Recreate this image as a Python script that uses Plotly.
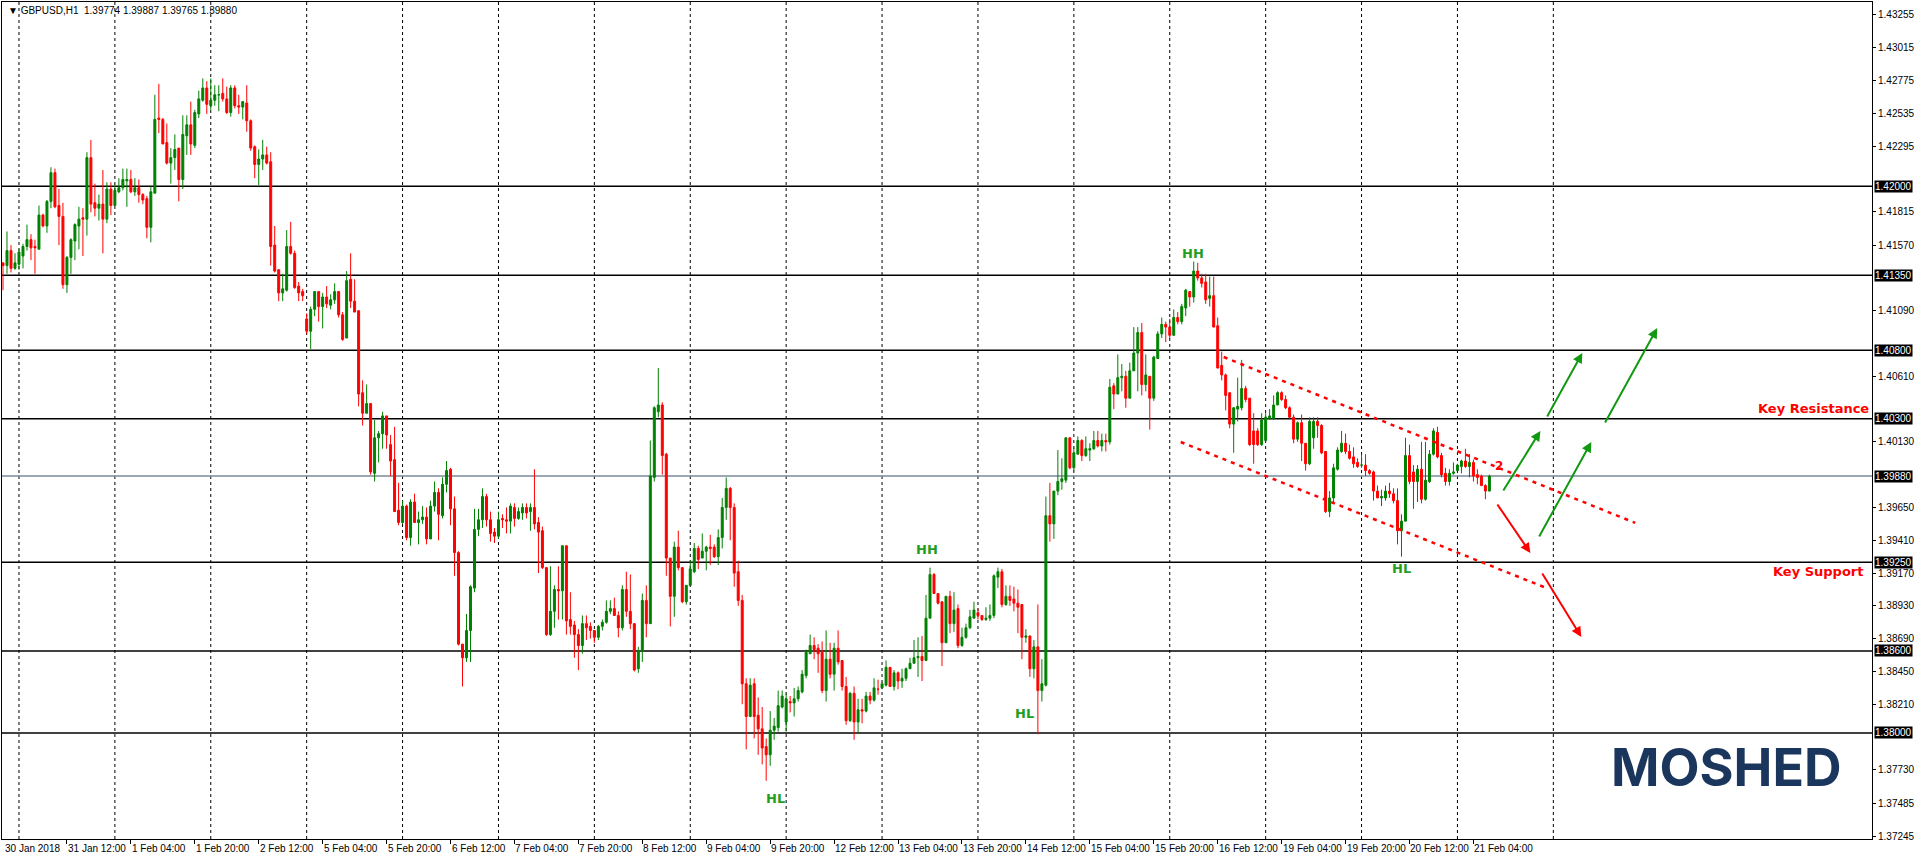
import plotly.graph_objects as go

opens = [1.4144,1.4142,1.4153,1.4140,1.4143,1.4149,1.4156,1.4161,1.4156,1.4154,
1.4179,1.4171,1.4189,1.4210,1.4186,1.4178,1.4128,1.4148,1.4160,1.4171,
1.4177,1.4176,1.4221,1.4188,1.4184,1.4187,1.4176,1.4198,1.4186,1.4196,
1.4199,1.4204,1.4205,1.4196,1.4199,1.4194,1.4191,1.4170,1.4195,1.4250,
1.4249,1.4232,1.4217,1.4221,1.4228,1.4205,1.4237,1.4245,1.4230,1.4253,
1.4263,1.4272,1.4259,1.4263,1.4267,1.4268,1.4264,1.4254,1.4272,1.4259,
1.4258,1.4261,1.4248,1.4229,1.4216,1.4220,1.4223,1.4218,1.4157,1.4139,
1.4122,1.4124,1.4156,1.4151,1.4127,1.4123,
1.4103,1.4094,1.4110,1.4123,1.4112,1.4119,1.4113,1.4117,1.4123,1.4106,
1.4089,1.4132,1.4116,1.4109,1.4049,1.4034,1.4041,1.3990,1.4016,1.4019,
1.4032,1.4011,1.4000,1.3963,1.3954,1.3966,1.3943,1.3969,1.3954,1.3956,
1.3958,1.3942,1.3966,1.3976,1.3959,1.3982,1.3993,1.3964,1.3932,1.3865,
1.3855,1.3875,1.3906,1.3949,1.3956,1.3973,1.3956,1.3947,1.3944,1.3957,
1.3956,1.3955,1.3965,1.3957,1.3961,1.3965,1.3962,1.3965,1.3954,1.3948,
1.3921,1.3872,1.3889,1.3905,1.3904,1.3937,1.3883,1.3879,1.3872,1.3864,
1.3880,1.3878,1.3875,1.3870,1.3878,1.3881,1.3889,1.3891,1.3886,1.3877,
1.3905,1.3889,1.3880,1.3847,1.3860,1.3897,1.3880,1.3987,1.4035,1.4040,
1.4004,1.3928,1.3900,1.3936,1.3921,1.3896,1.3908,1.3918,1.3935,1.3928,
1.3933,1.3936,1.3936,1.3929,1.3943,1.3965,1.3979,1.3965,1.3918,1.3897,
1.3836,1.3812,1.3836,1.3813,1.3803,1.3790,1.3784,1.3802,1.3804,1.3819,
1.3808,1.3823,1.3822,1.3825,
1.3830,1.3842,1.3858,1.3864,1.3862,1.3859,1.3831,1.3854,1.3843,1.3862,
1.3853,1.3834,1.3809,1.3829,1.3808,1.3817,1.3816,1.3827,1.3824,1.3832,
1.3833,1.3835,1.3848,1.3834,1.3844,1.3838,1.3840,1.3847,1.3851,1.3855,
1.3856,1.3853,1.3884,1.3916,1.3902,1.3896,1.3866,1.3900,1.3880,1.3891,
1.3864,1.3870,1.3877,1.3884,1.3888,1.3886,1.3883,1.3884,1.3886,1.3914,
1.3918,1.3894,1.3900,1.3898,1.3895,1.3894,1.3870,1.3871,1.3847,1.3863,
1.3831,1.3835,1.3959,1.3953,1.3977,1.3984,1.3985,1.4016,1.3994,1.4004,
1.4014,1.4003,1.4007,1.4008,1.4014,1.4010,1.4014,1.4013,1.4054,1.4048,
1.4060,1.4061,1.4045,1.4065,1.4078,1.4093,1.4055,1.4061,1.4045,1.4074,
1.4092,1.4099,1.4097,1.4091,1.4104,1.4101,1.4111,1.4123,1.4119,1.4138,
1.4133,1.4130,1.4118,1.4120,1.4098,1.4069,1.4062,1.4049,1.4026,1.4037,
1.4038,1.4052,1.4045,1.4021,1.4021,1.4011,1.4014,1.4030,1.4030,1.4040,
1.4049,1.4044,1.4038,1.4031,1.4015,1.4027,1.4012,1.3997,1.4016,1.4028,
1.4025,1.4006,1.3962,1.3972,1.3993,1.4006,1.4012,1.4006,1.4002,1.3998,
1.3996,1.3996,1.3992,1.3991,1.3977,1.3972,1.3972,1.3977,1.3975,1.3970,
1.3948,1.3955,1.4003,1.3991,1.3984,1.3993,1.3971,1.3984,1.4004,1.4020,
1.4003,1.3990,1.3984,1.3990,1.3992,1.3995,1.3999,1.3995,1.3998,1.3989,
1.3988,1.3981,1.3977]

highs = [1.4144,1.4167,1.4157,1.4151,1.4154,1.4158,1.4172,1.4165,1.4161,1.4186,
1.4180,1.4190,1.4214,1.4213,1.4198,1.4188,1.4149,1.4162,1.4173,1.4185,
1.4184,1.4225,1.4234,1.4202,1.4194,1.4212,1.4203,1.4203,1.4201,1.4206,
1.4213,1.4213,1.4212,1.4206,1.4205,1.4195,1.4193,1.4200,1.4267,1.4275,
1.4250,1.4246,1.4228,1.4238,1.4228,1.4252,1.4252,1.4262,1.4256,1.4270,
1.4279,1.4277,1.4279,1.4274,1.4274,1.4279,1.4273,1.4274,1.4274,1.4267,
1.4262,1.4274,1.4249,1.4230,1.4227,1.4234,1.4229,1.4225,1.4171,1.4139,
1.4136,1.4168,1.4174,1.4153,1.4130,1.4125,
1.4107,1.4112,1.4123,1.4123,1.4122,1.4127,1.4121,1.4129,1.4123,1.4108,
1.4138,1.4151,1.4132,1.4109,1.4058,1.4055,1.4041,1.4029,1.4021,1.4035,
1.4032,1.4018,1.4024,1.3983,1.3970,1.3967,1.3971,1.3975,1.3962,1.3966,
1.3965,1.3970,1.3984,1.3979,1.3987,1.3999,1.3994,1.3973,1.3933,1.3865,
1.3887,1.3908,1.3964,1.3964,1.3979,1.3975,1.3962,1.3950,1.3962,1.3960,
1.3965,1.3968,1.3968,1.3965,1.3968,1.3968,1.3968,1.3993,1.3958,1.3951,
1.3921,1.3922,1.3908,1.3922,1.3937,1.3937,1.3903,1.3882,1.3876,1.3886,
1.3886,1.3881,1.3875,1.3879,1.3883,1.3897,1.3897,1.3899,1.3889,1.3908,
1.3918,1.3916,1.3880,1.3863,1.3902,1.3908,1.4014,1.4039,1.4067,1.4042,
1.4005,1.3928,1.3940,1.3948,1.3921,1.3908,1.3926,1.3939,1.3937,1.3946,
1.3937,1.3945,1.3938,1.3949,1.3972,1.3987,1.3980,1.3968,1.3926,1.3901,
1.3840,1.3840,1.3840,1.3826,1.3819,1.3796,1.3816,1.3811,1.3831,1.3831,
1.3829,1.3827,1.3833,1.3834,
1.3846,1.3861,1.3872,1.3870,1.3865,1.3867,1.3875,1.3866,1.3866,1.3875,
1.3853,1.3841,1.3830,1.3834,1.3825,1.3825,1.3830,1.3830,1.3840,1.3839,
1.3837,1.3853,1.3848,1.3846,1.3845,1.3847,1.3848,1.3855,1.3868,1.3870,
1.3871,1.3901,1.3921,1.3917,1.3902,1.3896,1.3900,1.3904,1.3903,1.3894,
1.3877,1.3880,1.3890,1.3896,1.3891,1.3886,1.3892,1.3894,1.3916,1.3921,
1.3920,1.3908,1.3908,1.3907,1.3905,1.3894,1.3876,1.3871,1.3868,1.3894,
1.3854,1.3973,1.3983,1.3977,1.4007,1.4001,1.4016,1.4016,1.4009,1.4017,
1.4015,1.4017,1.4012,1.4021,1.4021,1.4019,1.4019,1.4059,1.4056,1.4077,
1.4070,1.4065,1.4071,1.4097,1.4097,1.4100,1.4077,1.4061,1.4076,1.4094,
1.4104,1.4101,1.4103,1.4110,1.4108,1.4114,1.4125,1.4123,1.4145,1.4144,
1.4136,1.4136,1.4134,1.4134,1.4104,1.4079,1.4063,1.4049,1.4038,1.4060,
1.4073,1.4054,1.4045,1.4034,1.4023,1.4034,1.4034,1.4037,1.4047,1.4050,
1.4050,1.4047,1.4039,1.4033,1.4028,1.4033,1.4012,1.4031,1.4031,1.4031,
1.4026,1.4006,1.3977,1.3997,1.4009,1.4021,1.4019,1.4011,1.4009,1.4001,
1.4004,1.4004,1.3993,1.3992,1.3981,1.3978,1.3981,1.3983,1.3979,1.3979,
1.3960,1.4016,1.4011,1.3996,1.3996,1.4013,1.4013,1.4007,1.4023,1.4024,
1.4005,1.3994,1.3993,1.3998,1.3997,1.4000,1.4008,1.4004,1.4000,1.3993,
1.3989,1.3982,1.3989]

lows = [1.4124,1.4136,1.4137,1.4139,1.4139,1.4140,1.4153,1.4146,1.4136,1.4154,
1.4170,1.4166,1.4184,1.4184,1.4157,1.4125,1.4122,1.4136,1.4146,1.4154,
1.4149,1.4164,1.4181,1.4178,1.4175,1.4151,1.4173,1.4179,1.4186,1.4195,
1.4197,1.4185,1.4195,1.4193,1.4188,1.4187,1.4162,1.4159,1.4195,1.4239,
1.4231,1.4216,1.4202,1.4212,1.4189,1.4198,1.4223,1.4223,1.4228,1.4250,
1.4262,1.4253,1.4256,1.4259,1.4255,1.4262,1.4253,1.4251,1.4257,1.4253,
1.4249,1.4240,1.4226,1.4206,1.4201,1.4212,1.4216,1.4142,1.4137,1.4116,
1.4116,1.4123,1.4150,1.4125,1.4116,1.4116,
1.4092,1.4081,1.4105,1.4101,1.4096,1.4111,1.4110,1.4114,1.4104,1.4087,
1.4089,1.4111,1.4108,1.4039,1.4025,1.4034,1.3989,1.3984,1.3998,1.4008,
1.4008,1.3988,1.3962,1.3952,1.3953,1.3941,1.3937,1.3954,1.3938,1.3953,
1.3938,1.3942,1.3962,1.3941,1.3957,1.3976,1.3952,1.3915,1.3864,1.3834,
1.3852,1.3852,1.3903,1.3944,1.3950,1.3951,1.3940,1.3939,1.3942,1.3950,
1.3946,1.3946,1.3951,1.3956,1.3956,1.3957,1.3948,1.3949,1.3917,1.3920,
1.3871,1.3871,1.3877,1.3883,1.3883,1.3872,1.3872,1.3855,1.3846,1.3858,
1.3868,1.3869,1.3866,1.3868,1.3875,1.3880,1.3887,1.3886,1.3870,1.3875,
1.3885,1.3876,1.3845,1.3844,1.3852,1.3870,1.3880,1.3984,1.4031,1.3989,
1.3915,1.3878,1.3885,1.3919,1.3895,1.3894,1.3908,1.3917,1.3920,1.3928,
1.3919,1.3923,1.3928,1.3923,1.3935,1.3956,1.3941,1.3907,1.3893,1.3821,
1.3788,1.3812,1.3796,1.3784,1.3777,1.3765,1.3776,1.3795,1.3801,1.3818,
1.3801,1.3815,1.3812,1.3823,
1.3829,1.3840,1.3858,1.3854,1.3844,1.3829,1.3823,1.3840,1.3831,1.3850,
1.3831,1.3806,1.3808,1.3795,1.3800,1.3807,1.3815,1.3821,1.3823,1.3828,
1.3832,1.3834,1.3834,1.3831,1.3832,1.3833,1.3838,1.3847,1.3851,1.3841,
1.3838,1.3853,1.3884,1.3902,1.3894,1.3849,1.3866,1.3873,1.3874,1.3862,
1.3863,1.3869,1.3876,1.3884,1.3883,1.3882,1.3882,1.3882,1.3884,1.3906,
1.3892,1.3893,1.3893,1.3889,1.3873,1.3854,1.3866,1.3841,1.3840,1.3799,
1.3823,1.3834,1.3940,1.3942,1.3974,1.3978,1.3983,1.3993,1.3992,1.4004,
1.3999,1.4002,1.3999,1.4007,1.4009,1.4006,1.4006,1.4011,1.4037,1.4048,
1.4050,1.4038,1.4045,1.4065,1.4050,1.4047,1.4050,1.4022,1.4043,1.4074,
1.4089,1.4086,1.4089,1.4091,1.4099,1.4099,1.4105,1.4112,1.4115,1.4131,
1.4126,1.4114,1.4112,1.4097,1.4067,1.4058,1.4036,1.4023,1.4005,1.4028,
1.4036,1.4042,1.4010,1.3997,1.4010,1.4010,1.4014,1.4029,1.4029,1.4040,
1.4043,1.4037,1.4030,1.4012,1.4013,1.3999,1.3992,1.3996,1.4008,1.4016,
1.4004,1.3961,1.3958,1.3968,1.3992,1.4005,1.4004,1.4000,1.3994,1.3994,
1.3994,1.3988,1.3989,1.3970,1.3972,1.3966,1.3970,1.3972,1.3968,1.3938,
1.3929,1.3955,1.3982,1.3964,1.3969,1.3968,1.3970,1.3983,1.4003,1.4001,
1.3987,1.3981,1.3981,1.3989,1.3992,1.3990,1.3994,1.3987,1.3984,1.3982,
1.3981,1.3971,1.3977]

closes = [1.4142,1.4153,1.4140,1.4144,1.4152,1.4156,1.4161,1.4155,1.4155,1.4179,
1.4171,1.4189,1.4210,1.4185,1.4178,1.4128,1.4148,1.4161,1.4172,1.4176,
1.4176,1.4221,1.4187,1.4184,1.4187,1.4176,1.4198,1.4186,1.4197,1.4199,
1.4205,1.4205,1.4196,1.4199,1.4194,1.4190,1.4170,1.4196,1.4249,1.4249,
1.4231,1.4217,1.4221,1.4227,1.4205,1.4238,1.4245,1.4231,1.4254,1.4264,
1.4272,1.4260,1.4263,1.4267,1.4267,1.4264,1.4254,1.4272,1.4259,1.4258,
1.4262,1.4248,1.4228,1.4216,1.4220,1.4223,1.4217,1.4156,1.4138,1.4122,
1.4125,1.4156,1.4151,1.4126,1.4122,1.4120,
1.4094,1.4110,1.4123,1.4112,1.4119,1.4114,1.4117,1.4123,1.4106,1.4088,
1.4131,1.4116,1.4108,1.4048,1.4034,1.4041,1.3991,1.4016,1.4019,1.4032,
1.4018,1.3999,1.3962,1.3954,1.3966,1.3943,1.3969,1.3954,1.3956,1.3958,
1.3942,1.3966,1.3976,1.3960,1.3982,1.3992,1.3964,1.3932,1.3865,1.3855,
1.3875,1.3907,1.3949,1.3956,1.3973,1.3956,1.3946,1.3944,1.3956,1.3956,
1.3955,1.3966,1.3957,1.3962,1.3965,1.3961,1.3965,1.3953,1.3947,1.3921,
1.3872,1.3889,1.3905,1.3904,1.3937,1.3882,1.3878,1.3872,1.3864,1.3880,
1.3877,1.3875,1.3870,1.3878,1.3881,1.3889,1.3891,1.3886,1.3877,1.3905,
1.3889,1.3880,1.3846,1.3860,1.3897,1.3880,1.3988,1.4038,1.4040,1.4003,
1.3928,1.3900,1.3936,1.3921,1.3896,1.3908,1.3920,1.3935,1.3927,1.3933,
1.3936,1.3935,1.3929,1.3943,1.3965,1.3979,1.3965,1.3917,1.3897,1.3836,
1.3812,1.3835,1.3812,1.3803,1.3789,1.3784,1.3802,1.3805,1.3820,1.3827,
1.3825,1.3822,1.3825,1.3831,
1.3843,1.3859,1.3864,1.3861,1.3858,1.3831,1.3854,1.3843,1.3862,1.3852,
1.3834,1.3809,1.3829,1.3808,1.3817,1.3816,1.3827,1.3824,1.3833,1.3832,
1.3836,1.3848,1.3834,1.3844,1.3838,1.3840,1.3847,1.3851,1.3855,1.3856,
1.3853,1.3884,1.3916,1.3902,1.3895,1.3866,1.3900,1.3880,1.3890,1.3864,
1.3870,1.3877,1.3885,1.3890,1.3886,1.3883,1.3884,1.3886,1.3915,1.3918,
1.3894,1.3900,1.3897,1.3895,1.3892,1.3870,1.3871,1.3847,1.3863,1.3831,
1.3836,1.3959,1.3953,1.3977,1.3984,1.3986,1.4016,1.3994,1.4005,1.4014,
1.4003,1.4008,1.4008,1.4014,1.4010,1.4014,1.4013,1.4053,1.4048,1.4060,
1.4061,1.4045,1.4065,1.4078,1.4093,1.4055,1.4062,1.4045,1.4075,1.4092,
1.4099,1.4097,1.4091,1.4104,1.4101,1.4112,1.4124,1.4119,1.4138,1.4133,
1.4129,1.4117,1.4120,1.4097,1.4067,1.4062,1.4047,1.4026,1.4038,1.4039,
1.4052,1.4044,1.4011,1.4011,1.4011,1.4029,1.4031,1.4032,1.4040,1.4049,
1.4044,1.4038,1.4031,1.4015,1.4027,1.4012,1.3997,1.4028,1.4028,1.4025,
1.4005,1.3962,1.3972,1.3994,1.4007,1.4012,1.4006,1.4001,1.3997,1.3995,
1.3996,1.3992,1.3990,1.3977,1.3972,1.3973,1.3977,1.3975,1.3970,1.3948,
1.3955,1.4003,1.3984,1.3984,1.3993,1.3971,1.3985,1.4004,1.4021,1.4002,
1.3989,1.3984,1.3990,1.3991,1.3996,1.3999,1.3995,1.3998,1.3988,1.3987,
1.3981,1.3977,1.3988]

time_labels = ["30 Jan 2018", "31 Jan 12:00", "1 Feb 04:00", "1 Feb 20:00", "2 Feb 12:00",
               "5 Feb 04:00", "5 Feb 20:00", "6 Feb 12:00", "7 Feb 04:00", "7 Feb 20:00",
               "8 Feb 12:00", "9 Feb 04:00", "9 Feb 20:00", "12 Feb 12:00", "13 Feb 04:00",
               "13 Feb 20:00", "14 Feb 12:00", "15 Feb 04:00", "15 Feb 20:00", "16 Feb 12:00",
               "19 Feb 04:00", "19 Feb 20:00", "20 Feb 12:00", "21 Feb 04:00"]
price_ticks = [1.43255, 1.43015, 1.42775, 1.42535, 1.42295, 1.41815, 1.41570, 1.41090,
               1.40610, 1.40130, 1.39650, 1.39410, 1.39170, 1.38930, 1.38690, 1.38450,
               1.38210, 1.37730, 1.37485, 1.37245]
levels = [1.42000, 1.41350, 1.40800, 1.40300, 1.39250, 1.38600, 1.38000]
current_price = 1.39880

n = len(closes)
xs = list(range(n))
highs = [max(h, o, c) for h, o, c in zip(highs, opens, closes)]
lows = [min(l, o, c) for l, o, c in zip(lows, opens, closes)]

GREEN = "#008000"
RED = "#ff0000"
LBL = "#1f9e1f"
AXFONT = dict(family="Liberation Sans", size=10, color="black")

fig = go.Figure()
fig.add_trace(go.Candlestick(
    x=xs, open=opens, high=highs, low=lows, close=closes,
    increasing=dict(line=dict(color=GREEN, width=1), fillcolor=GREEN),
    decreasing=dict(line=dict(color=RED, width=1), fillcolor=RED),
    whiskerwidth=0, hoverinfo="skip", showlegend=False))

X0, X1 = -0.25, 467.75
Y0, Y1 = 1.37224, 1.43349

for k in range(17):
    xv = 4 + 24 * k
    fig.add_shape(type="line", x0=xv, x1=xv, y0=0, y1=1, xref="x", yref="paper",
                  line=dict(color="black", width=1, dash="3px,3px"), layer="below")
for lv in levels:
    fig.add_shape(type="line", x0=0, x1=1, xref="paper", y0=lv, y1=lv, yref="y",
                  line=dict(color="black", width=1.5), layer="below")
fig.add_shape(type="line", x0=0, x1=1, xref="paper", y0=current_price, y1=current_price, yref="y",
              line=dict(color="#7a8a99", width=1.5), layer="below")

fig.add_shape(type="line", x0=305.5, y0=1.40751, x1=408.5, y1=1.39537,
              line=dict(color=RED, width=2.5, dash="4px,5px"))
fig.add_shape(type="line", x0=294.75, y0=1.40129, x1=386.25, y1=1.39061,
              line=dict(color=RED, width=2.5, dash="4px,5px"))

ann = []
arrows = [((375.25, 1.39763), (384.75, 1.40210), "#119911"),
          ((386.25, 1.40305), (395.25, 1.40781), "#119911"),
          ((384.25, 1.39427), (397.5, 1.40129), "#119911"),
          ((400.75, 1.40261), (414.0, 1.40963), "#119911"),
          ((373.75, 1.39683), (382.25, 1.39317), RED),
          ((385.0, 1.39178), (395.0, 1.38703), RED)]
for (tx, ty), (hx, hy), col in arrows:
    ann.append(dict(x=hx, y=hy, ax=tx, ay=ty, xref="x", yref="y", axref="x", ayref="y",
                    showarrow=True, arrowhead=2, arrowsize=1, arrowwidth=2, arrowcolor=col, text=""))

for txt, x, y in [("HL", 193.25, 1.37524), ("HH", 231.25, 1.39339), ("HL", 255.75, 1.38139),
                  ("HH", 297.75, 1.41512), ("HL", 350.0, 1.39200)]:
    ann.append(dict(x=x, y=y, xref="x", yref="y", text="<b>" + txt + "</b>", showarrow=False,
                    font=dict(family="DejaVu Sans", size=13, color=LBL)))
ann.append(dict(x=374.5, y=1.39954, xref="x", yref="y", text="<b>2</b>", showarrow=False,
                font=dict(family="DejaVu Sans", size=12, color=RED)))
ann.append(dict(x=453, y=1.40378, xref="x", yref="y", text="<b>Key Resistance</b>", showarrow=False,
                font=dict(family="DejaVu Sans", size=13, color=RED)))
ann.append(dict(x=454.25, y=1.39178, xref="x", yref="y", text="<b>Key Support</b>", showarrow=False,
                font=dict(family="DejaVu Sans", size=13, color=RED)))
ann.append(dict(x=0.985, y=0.045, xref="paper", yref="paper", xanchor="right", yanchor="bottom",
                text="<b>MOSHED</b>", showarrow=False,
                font=dict(family="Inter", size=52, color="#1b365d")))
ann.append(dict(x=0.002, y=0.999, xref="paper", yref="paper", xanchor="left", yanchor="top",
                text="▼ GBPUSD,H1  1.39774 1.39887 1.39765 1.39880", showarrow=False,
                font=dict(family="Liberation Sans", size=10, color="black")))
for lv in levels + [current_price]:
    ann.append(dict(x=1.0, y=lv, xref="paper", yref="y", xanchor="left", yanchor="middle",
                    text="%.5f" % lv, showarrow=False, bgcolor="black",
                    font=dict(family="Liberation Sans", size=10, color="white"), borderpad=0, xshift=2))
for k, t in enumerate(time_labels):
    ann.append(dict(x=16 * k, y=0, xref="x", yref="paper", xanchor="left", yanchor="top",
                    text=t, showarrow=False, yshift=-2, xshift=-1 if k else 0, font=AXFONT))

fig.update_layout(
    width=1916, height=860, margin=dict(l=2, r=42, t=1, b=21),
    paper_bgcolor="white", plot_bgcolor="white", annotations=ann,
    xaxis=dict(range=[X0, X1], rangeslider=dict(visible=False), showgrid=False, zeroline=False,
               tickvals=[16 * k for k in range(1, len(time_labels))], ticktext=[""] * (len(time_labels) - 1),
               ticks="outside", ticklen=4, tickcolor="black",
               showline=True, linecolor="black", linewidth=1, mirror=True),
    yaxis=dict(range=[Y0, Y1], side="right", showgrid=False, zeroline=False,
               tickvals=price_ticks, ticktext=["%.5f" % v for v in price_ticks],
               ticks="outside", ticklen=3, tickcolor="black", tickfont=AXFONT,
               showline=True, linecolor="black", linewidth=1, mirror=True),
)
fig.write_html("out.html", config={"displayModeBar": False},
               post_script="document.body.style.margin='0';document.body.style.overflow='hidden';")
